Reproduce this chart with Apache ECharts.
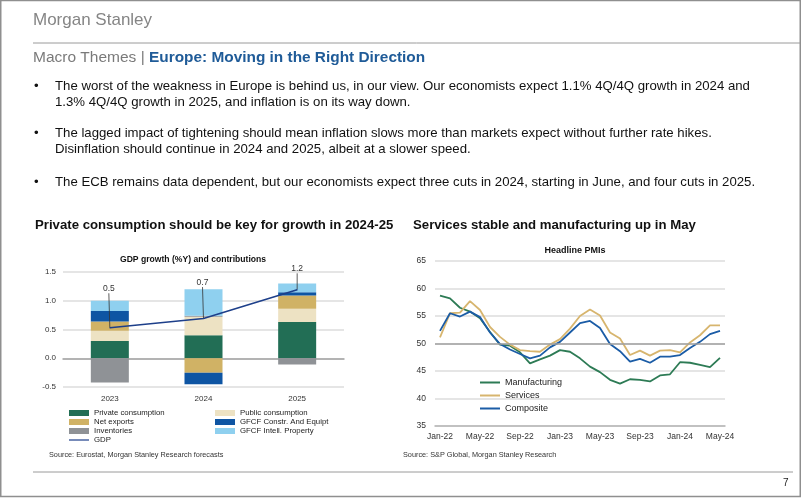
<!DOCTYPE html>
<html><head><meta charset="utf-8">
<script src="https://cdn.jsdelivr.net/npm/echarts@6/dist/echarts.min.js"></script>
<style>html,body{margin:0;padding:0;background:#fff}#c{width:802px;height:498px}</style>
</head><body><div id="c"></div>
<script>
// ---- GDP contributions (left chart) ----
const years = ['2023', '2024', '2025'];
const privateCons = [0.30, 0.40, 0.63];
const publicCons = [0.18, 0.32, 0.23];
const netExports = [0.16, -0.25, 0.23];
const gfcfConstr = [0.18, -0.20, 0.06];
const inventories = [-0.42, 0.02, -0.11];
const gfcfIntell = [0.18, 0.46, 0.15];
const gdp = [0.53, 0.69, 1.19];
const gdpLabels = ['0.5', '0.7', '1.2'];
const gdpTicks = [-0.5, 0.0, 0.5, 1.0, 1.5];

// ---- PMIs (right chart) ----
const months = ['Jan-22','Feb-22','Mar-22','Apr-22','May-22','Jun-22','Jul-22','Aug-22','Sep-22','Oct-22','Nov-22','Dec-22',
  'Jan-23','Feb-23','Mar-23','Apr-23','May-23','Jun-23','Jul-23','Aug-23','Sep-23','Oct-23','Nov-23','Dec-23',
  'Jan-24','Feb-24','Mar-24','Apr-24','May-24'];
const manufacturing = [58.7,58.2,56.5,55.8,54.6,52.1,49.8,49.6,48.4,46.4,47.1,47.8,48.8,48.5,47.3,45.8,44.8,43.4,42.7,43.5,43.4,43.1,44.2,44.4,46.6,46.5,46.1,45.7,47.4];
const services = [51.1,55.5,55.6,57.7,56.1,53.0,51.2,49.8,48.8,48.6,48.5,49.8,50.8,52.7,55.0,56.2,55.1,52.0,50.9,47.9,48.7,47.8,48.7,48.8,48.4,50.2,51.5,53.3,53.3];
const composite = [52.3,55.5,54.9,55.8,54.8,52.0,49.9,48.9,48.1,47.3,47.8,49.3,50.3,52.0,53.7,54.1,52.8,49.9,48.6,46.7,47.2,46.5,47.6,47.6,47.9,49.2,50.3,51.7,52.3];

const FONT = '"Liberation Sans", Arial, sans-serif';

const bodyLines = [
  {y: 86, t: 'The worst of the weakness in Europe is behind us, in our view. Our economists expect 1.1% 4Q/4Q growth in 2024 and', b: true},
  {y: 102, t: '1.3% 4Q/4Q growth in 2025, and inflation is on its way down.'},
  {y: 133, t: 'The lagged impact of tightening should mean inflation slows more than markets expect without further rate hikes.', b: true},
  {y: 149, t: 'Disinflation should continue in 2024 and 2025, albeit at a slower speed.'},
  {y: 182, t: 'The ECB remains data dependent, but our economists expect three cuts in 2024, starting in June, and four cuts in 2025.', b: true}
];

const graphics = [
  {type: 'rect', shape: {x: 0.75, y: 0.5, width: 799.5, height: 496}, style: {fill: 'none', stroke: '#8f8f8f', lineWidth: 1.5}, silent: true},
  {type: 'text', x: 33, y: 20, style: {text: 'Morgan Stanley', font: '17px ' + FONT, fill: '#858585', verticalAlign: 'middle'}},
  {type: 'line', shape: {x1: 33, y1: 43, x2: 800, y2: 43}, style: {stroke: '#9a9a9a', lineWidth: 1}},
  {type: 'text', x: 33, y: 58, style: {text: 'Macro Themes |', font: '15.5px ' + FONT, fill: '#7a7a7a', verticalAlign: 'middle'}},
  {type: 'text', x: 149, y: 58, style: {text: 'Europe: Moving in the Right Direction', font: 'bold 15.4px ' + FONT, fill: '#1f5b98', verticalAlign: 'middle'}},
  {type: 'text', x: 35, y: 225, style: {text: 'Private consumption should be key for growth in 2024-25', font: 'bold 13.2px ' + FONT, fill: '#111', verticalAlign: 'middle'}},
  {type: 'text', x: 413, y: 225, style: {text: 'Services stable and manufacturing up in May', font: 'bold 13.2px ' + FONT, fill: '#111', verticalAlign: 'middle'}},
  {type: 'text', x: 49, y: 455, style: {text: 'Source: Eurostat, Morgan Stanley Research forecasts', font: '7.3px ' + FONT, fill: '#333', verticalAlign: 'middle'}},
  {type: 'text', x: 403, y: 455, style: {text: 'Source: S&P Global, Morgan Stanley Research', font: '7.3px ' + FONT, fill: '#333', verticalAlign: 'middle'}},
  {type: 'line', shape: {x1: 33, y1: 472, x2: 793, y2: 472}, style: {stroke: '#9a9a9a', lineWidth: 1}},
  {type: 'text', x: 783, y: 483, style: {text: '7', font: '10px ' + FONT, fill: '#222', verticalAlign: 'middle'}}
];
bodyLines.forEach(l => {
  if (l.b) graphics.push({type: 'text', x: 34, y: l.y, style: {text: '•', font: '13.2px ' + FONT, fill: '#111', verticalAlign: 'middle'}});
  graphics.push({type: 'text', x: 55, y: l.y, style: {text: l.t, font: '13.2px ' + FONT, fill: '#111', verticalAlign: 'middle'}});
});

const C = {priv: '#226e55', pub: '#ede2c3', nx: '#d0b265', con: '#0e55a3', inv: '#8f9296', ip: '#8fd0ef', gdp: '#1d3f8a'};
const legendText = {fontSize: 7.8, color: '#222', fontFamily: FONT, lineHeight: 9};
const LINE_ICON = 'path://M0,0L20,0L20,2L0,2Z';

function bar(name, data, color) {
  return {name, type: 'bar', stack: 'g', xAxisIndex: 0, yAxisIndex: 0, data, barWidth: 38, itemStyle: {color}};
}

const chart = echarts.init(document.getElementById('c'), null, {renderer: 'canvas'});
chart.setOption({
  animation: false,
  backgroundColor: '#fff',
  textStyle: {fontFamily: FONT},
  graphic: graphics,
  title: [
    {text: 'GDP growth (%Y) and contributions', left: 193, top: 255, textAlign: 'center', padding: 0,
     textStyle: {fontSize: 8.6, fontWeight: 'bold', fontFamily: FONT, color: '#111'}},
    {text: 'Headline PMIs', left: 575, top: 246, textAlign: 'center', padding: 0,
     textStyle: {fontSize: 9, fontWeight: 'bold', fontFamily: FONT, color: '#111'}}
  ],
  legend: [
    {left: 69, top: 408.5, padding: 0, orient: 'vertical', itemWidth: 20, itemHeight: 6, itemGap: 0, icon: 'rect',
     data: ['Private consumption', 'Net exports', 'Inventories', {name: 'GDP', icon: 'path://M0,0L20,0L20,1.2L0,1.2Z'}],
     textStyle: legendText, selectedMode: false},
    {left: 215, top: 408.5, padding: 0, orient: 'vertical', itemWidth: 20, itemHeight: 6, itemGap: 0, icon: 'rect',
     data: ['Public consumption', 'GFCF Constr. And Equipt', 'GFCF Intell. Property'],
     textStyle: legendText, selectedMode: false},
    {left: 480, top: 378, padding: 0, orient: 'vertical', itemWidth: 20, itemHeight: 10, itemGap: 4, icon: LINE_ICON,
     data: ['Manufacturing', 'Services', 'Composite'],
     textStyle: {fontSize: 9, color: '#222', fontFamily: FONT}, selectedMode: false}
  ],
  grid: [
    {left: 63, top: 272, width: 281, height: 115},
    {left: 435, top: 261, width: 290, height: 165}
  ],
  xAxis: [
    {type: 'category', gridIndex: 0, data: years,
     axisLine: {lineStyle: {color: '#a3a3a3', width: 1.5}}, axisTick: {show: false},
     axisLabel: {fontSize: 8, color: '#333', margin: 8}},
    {type: 'category', gridIndex: 1, data: months, boundaryGap: true,
     axisLine: {lineStyle: {color: '#b5b5b5', width: 1.5}}, axisTick: {show: false},
     axisLabel: {fontSize: 8.5, color: '#333', interval: 3, margin: 6}}
  ],
  yAxis: [
    {type: 'value', gridIndex: 0, min: -0.5, max: 1.5, interval: 0.5,
     axisLine: {show: false}, axisTick: {show: false},
     axisLabel: {fontSize: 8, color: '#333', margin: 7, formatter: v => v.toFixed(1)},
     splitLine: {lineStyle: {color: '#dcdcdc', width: 1.5}}},
    {type: 'value', gridIndex: 1, min: 35, max: 65, interval: 5,
     axisLine: {show: false}, axisTick: {show: false},
     axisLabel: {fontSize: 8.5, color: '#333', margin: 9},
     splitLine: {lineStyle: {color: '#dcdcdc', width: 1.5}}}
  ],
  series: [
    bar('Private consumption', privateCons, C.priv),
    bar('Public consumption', publicCons, C.pub),
    bar('Net exports', netExports, C.nx),
    bar('GFCF Constr. And Equipt', gfcfConstr, C.con),
    bar('Inventories', inventories, C.inv),
    bar('GFCF Intell. Property', gfcfIntell, C.ip),
    {name: 'GDP', type: 'line', xAxisIndex: 0, yAxisIndex: 0, data: gdp, z: 5,
     symbol: 'circle', symbolSize: 1, itemStyle: {color: C.gdp}, lineStyle: {color: C.gdp, width: 1.6},
     label: {show: true, position: 'top', distance: 0, fontSize: 8.5, color: '#333',
             formatter: p => gdpLabels[p.dataIndex]},
     labelLayout: p => ({dy: [-34, -31, -16][p.dataIndex], dx: [-1, -1, 0][p.dataIndex]}),
     labelLine: {show: true, lineStyle: {color: '#333', width: 0.8}}},
    {name: 'Manufacturing', type: 'line', xAxisIndex: 1, yAxisIndex: 1, data: manufacturing, symbol: 'none',
     itemStyle: {color: '#2d7b55'}, lineStyle: {color: '#2d7b55', width: 1.8}, z: 3,
     markLine: {silent: true, symbol: 'none', label: {show: false}, lineStyle: {color: '#a0a0a0', type: 'solid', width: 1.5},
                data: [{yAxis: 50}]}},
    {name: 'Services', type: 'line', xAxisIndex: 1, yAxisIndex: 1, data: services, symbol: 'none',
     itemStyle: {color: '#d7b56e'}, lineStyle: {color: '#d7b56e', width: 1.8}, z: 3},
    {name: 'Composite', type: 'line', xAxisIndex: 1, yAxisIndex: 1, data: composite, symbol: 'none',
     itemStyle: {color: '#1b5ca6'}, lineStyle: {color: '#1b5ca6', width: 1.8}, z: 4}
  ]
});
</script></body></html>
